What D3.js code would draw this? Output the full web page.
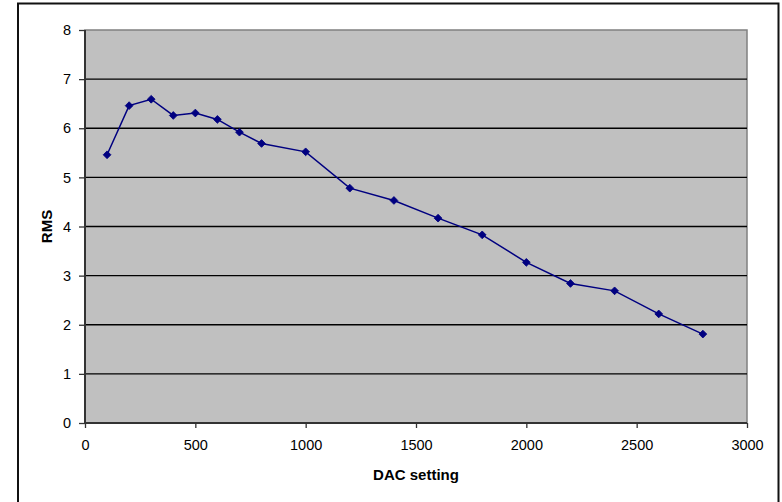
<!DOCTYPE html>
<html>
<head>
<meta charset="utf-8">
<script src="https://cdn.jsdelivr.net/npm/d3@7"></script>
<style>
  html, body { margin: 0; padding: 0; background: #fff; }
  svg { display: block; }
</style>
</head>
<body>
<script>
// DAC setting vs. RMS measurement
const dacSettings = [100, 200, 300, 400, 500, 600, 700, 800, 1000, 1200, 1400, 1600, 1800, 2000, 2200, 2400, 2600, 2800];
const rmsValues   = [5.46, 6.46, 6.59, 6.26, 6.31, 6.18, 5.92, 5.69, 5.52, 4.78, 4.53, 4.17, 3.83, 3.27, 2.84, 2.69, 2.22, 1.81];
const xTicks = [0, 500, 1000, 1500, 2000, 2500, 3000];
const yTicks = [0, 1, 2, 3, 4, 5, 6, 7, 8];
const xTitle = "DAC setting";
const yTitle = "RMS";

const W = 782, H = 502;
const plot = { left: 85, top: 30, right: 747, bottom: 423 };
const font = "'Liberation Sans', Arial, sans-serif";

const svg = d3.select("body").append("svg")
  .attr("width", W).attr("height", H);

// chart frame (open at the bottom edge)
svg.append("path")
  .attr("d", `M18,${H + 2}V3.5H778.5V${H + 2}`)
  .attr("fill", "none").attr("stroke", "#111").attr("stroke-width", 2);

const x = d3.scaleLinear().domain([0, 3000]).range([plot.left, plot.right]);
const y = d3.scaleLinear().domain([0, 8]).range([plot.bottom, plot.top]);

// plot background
svg.append("rect")
  .attr("x", plot.left).attr("y", plot.top)
  .attr("width", plot.right - plot.left).attr("height", plot.bottom - plot.top)
  .attr("fill", "#c0c0c0").attr("stroke", "#808080").attr("stroke-width", 1.5);

// horizontal gridlines
svg.append("g").selectAll("line")
  .data(yTicks.filter(d => d > 0 && d < 8))
  .join("line")
  .attr("x1", plot.left).attr("x2", plot.right)
  .attr("y1", d => y(d)).attr("y2", d => y(d))
  .attr("stroke", "#000").attr("stroke-width", 1.3);

// axes
const yAxis = svg.append("g")
  .attr("transform", `translate(${plot.left},0)`)
  .call(d3.axisLeft(y).tickValues(yTicks).tickFormat(d3.format("d")).tickSize(6).tickPadding(8));
const xAxis = svg.append("g")
  .attr("transform", `translate(0,${plot.bottom})`)
  .call(d3.axisBottom(x).tickValues(xTicks).tickFormat(d3.format("d")).tickSize(5).tickPadding(12));

[yAxis, xAxis].forEach(g => {
  g.select(".domain").attr("stroke", "#333").attr("stroke-width", 2);
  g.selectAll(".tick line").attr("stroke", "#333").attr("stroke-width", 1.3);
  g.selectAll(".tick text")
    .attr("fill", "#000")
    .style("font-family", font)
    .style("font-size", "14.5px");
});
xAxis.select(".domain").attr("d", `M${plot.left},0H${plot.right}`);
yAxis.select(".domain").attr("d", `M0,${plot.bottom}V${plot.top}`);

const points = dacSettings.map((d, i) => [d, rmsValues[i]]);

// series line
svg.append("path")
  .datum(points)
  .attr("fill", "none")
  .attr("stroke", "#000080")
  .attr("stroke-width", 1.5)
  .attr("d", d3.line().x(d => x(d[0])).y(d => y(d[1])));

// diamond markers
svg.append("g").selectAll("path")
  .data(points)
  .join("path")
  .attr("transform", d => `translate(${x(d[0])},${y(d[1])}) rotate(45)`)
  .attr("d", d3.symbol().type(d3.symbolSquare).size(30))
  .attr("fill", "#000080")
  .attr("stroke", "#000080")
  .attr("stroke-width", 0.8);

// axis titles
svg.append("text")
  .attr("x", (plot.left + plot.right) / 2).attr("y", 480)
  .attr("text-anchor", "middle")
  .style("font-family", font)
  .style("font-size", "15px").style("font-weight", "bold")
  .text(xTitle);

svg.append("text")
  .attr("transform", `translate(52,${(plot.top + plot.bottom) / 2}) rotate(-90)`)
  .attr("text-anchor", "middle")
  .style("font-family", font)
  .style("font-size", "15px").style("font-weight", "bold")
  .text(yTitle);
</script>
</body>
</html>
